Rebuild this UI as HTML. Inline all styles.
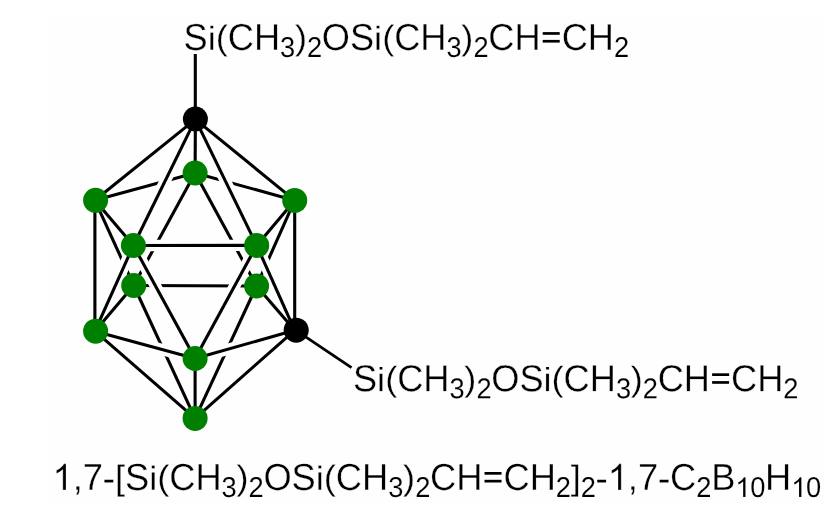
<!DOCTYPE html>
<html><head><meta charset="utf-8"><style>
html,body{margin:0;padding:0;background:#fff;}
svg{display:block;will-change:transform;}
text{font-family:"Liberation Sans",sans-serif;fill:#000;stroke:#fff;stroke-width:0.3px;}
text.s{stroke-width:0.1px;}
</style></head><body>
<svg width="834" height="516" viewBox="0 0 834 516">
<defs><mask id="m1" maskUnits="userSpaceOnUse" x="0" y="0" width="834" height="516"><rect width="834" height="516" fill="#fff"/><line x1="195.40" y1="119.40" x2="133.40" y2="245.50" stroke="#000" stroke-width="11.3"/></mask><mask id="m2" maskUnits="userSpaceOnUse" x="0" y="0" width="834" height="516"><rect width="834" height="516" fill="#fff"/><line x1="195.40" y1="119.40" x2="256.70" y2="245.40" stroke="#000" stroke-width="11.3"/></mask><mask id="m3" maskUnits="userSpaceOnUse" x="0" y="0" width="834" height="516"><rect width="834" height="516" fill="#fff"/><line x1="133.40" y1="245.50" x2="256.70" y2="245.40" stroke="#000" stroke-width="11.3"/><line x1="133.40" y1="245.50" x2="195.10" y2="358.50" stroke="#000" stroke-width="11.3"/></mask><mask id="m4" maskUnits="userSpaceOnUse" x="0" y="0" width="834" height="516"><rect width="834" height="516" fill="#fff"/><line x1="133.40" y1="245.50" x2="256.70" y2="245.40" stroke="#000" stroke-width="11.3"/><line x1="256.70" y1="245.40" x2="195.10" y2="358.50" stroke="#000" stroke-width="11.3"/></mask><mask id="m5" maskUnits="userSpaceOnUse" x="0" y="0" width="834" height="516"><rect width="834" height="516" fill="#fff"/><line x1="133.40" y1="245.50" x2="195.10" y2="358.50" stroke="#000" stroke-width="11.3"/><line x1="256.70" y1="245.40" x2="195.10" y2="358.50" stroke="#000" stroke-width="11.3"/></mask><mask id="m7" maskUnits="userSpaceOnUse" x="0" y="0" width="834" height="516"><rect width="834" height="516" fill="#fff"/><line x1="133.40" y1="245.50" x2="94.90" y2="331.20" stroke="#000" stroke-width="11.3"/></mask><mask id="m8" maskUnits="userSpaceOnUse" x="0" y="0" width="834" height="516"><rect width="834" height="516" fill="#fff"/><line x1="256.70" y1="245.40" x2="294.70" y2="330.30" stroke="#000" stroke-width="11.3"/></mask><mask id="m10" maskUnits="userSpaceOnUse" x="0" y="0" width="834" height="516"><rect width="834" height="516" fill="#fff"/><line x1="94.90" y1="331.20" x2="195.10" y2="358.50" stroke="#000" stroke-width="11.3"/></mask><mask id="m11" maskUnits="userSpaceOnUse" x="0" y="0" width="834" height="516"><rect width="834" height="516" fill="#fff"/><line x1="195.10" y1="358.50" x2="294.70" y2="330.30" stroke="#000" stroke-width="11.3"/></mask></defs>
<rect width="834" height="516" fill="#fff"/>
<rect x="48" y="15" width="778" height="488" fill="#fefefe"/>
<line x1="195.40" y1="119.40" x2="195.10" y2="173.00" stroke="#000" stroke-width="3.1"/>
<line x1="94.90" y1="200.30" x2="195.10" y2="173.00" stroke="#000" stroke-width="3.1" mask="url(#m1)"/>
<line x1="195.10" y1="173.00" x2="294.70" y2="200.40" stroke="#000" stroke-width="3.1" mask="url(#m2)"/>
<line x1="195.10" y1="173.00" x2="133.70" y2="285.50" stroke="#000" stroke-width="3.1" mask="url(#m3)"/>
<line x1="195.10" y1="173.00" x2="256.60" y2="286.00" stroke="#000" stroke-width="3.1" mask="url(#m4)"/>
<line x1="133.70" y1="285.50" x2="256.60" y2="286.00" stroke="#000" stroke-width="3.1" mask="url(#m5)"/>
<line x1="133.70" y1="285.50" x2="94.90" y2="331.20" stroke="#000" stroke-width="3.1"/>
<line x1="133.70" y1="285.50" x2="94.90" y2="200.30" stroke="#000" stroke-width="3.1" mask="url(#m7)"/>
<line x1="256.60" y1="286.00" x2="294.70" y2="200.40" stroke="#000" stroke-width="3.1" mask="url(#m8)"/>
<line x1="256.60" y1="286.00" x2="294.70" y2="330.30" stroke="#000" stroke-width="3.1"/>
<line x1="133.70" y1="285.50" x2="195.10" y2="418.40" stroke="#000" stroke-width="3.1" mask="url(#m10)"/>
<line x1="256.60" y1="286.00" x2="195.10" y2="418.40" stroke="#000" stroke-width="3.1" mask="url(#m11)"/>
<line x1="195.40" y1="119.40" x2="94.90" y2="200.30" stroke="#000" stroke-width="3.1"/>
<line x1="195.40" y1="119.40" x2="133.40" y2="245.50" stroke="#000" stroke-width="3.1"/>
<line x1="195.40" y1="119.40" x2="256.70" y2="245.40" stroke="#000" stroke-width="3.1"/>
<line x1="195.40" y1="119.40" x2="294.70" y2="200.40" stroke="#000" stroke-width="3.1"/>
<line x1="94.90" y1="200.30" x2="133.40" y2="245.50" stroke="#000" stroke-width="3.1"/>
<line x1="133.40" y1="245.50" x2="256.70" y2="245.40" stroke="#000" stroke-width="3.1"/>
<line x1="256.70" y1="245.40" x2="294.70" y2="200.40" stroke="#000" stroke-width="3.1"/>
<line x1="94.90" y1="200.30" x2="94.90" y2="331.20" stroke="#000" stroke-width="3.1"/>
<line x1="294.70" y1="200.40" x2="294.70" y2="330.30" stroke="#000" stroke-width="3.1"/>
<line x1="133.40" y1="245.50" x2="94.90" y2="331.20" stroke="#000" stroke-width="3.1"/>
<line x1="133.40" y1="245.50" x2="195.10" y2="358.50" stroke="#000" stroke-width="3.1"/>
<line x1="256.70" y1="245.40" x2="195.10" y2="358.50" stroke="#000" stroke-width="3.1"/>
<line x1="256.70" y1="245.40" x2="294.70" y2="330.30" stroke="#000" stroke-width="3.1"/>
<line x1="94.90" y1="331.20" x2="195.10" y2="358.50" stroke="#000" stroke-width="3.1"/>
<line x1="195.10" y1="358.50" x2="294.70" y2="330.30" stroke="#000" stroke-width="3.1"/>
<line x1="195.10" y1="358.50" x2="195.10" y2="418.40" stroke="#000" stroke-width="3.1"/>
<line x1="94.90" y1="331.20" x2="195.10" y2="418.40" stroke="#000" stroke-width="3.1"/>
<line x1="294.70" y1="330.30" x2="195.10" y2="418.40" stroke="#000" stroke-width="3.1"/>
<line x1="195.3" y1="54" x2="195.3" y2="119" stroke="#000" stroke-width="3.1"/>
<line x1="296" y1="330.3" x2="351.5" y2="367.7" stroke="#000" stroke-width="2.8"/>
<circle cx="195.4" cy="119.0" r="12.5" fill="#000"/>
<circle cx="195.1" cy="173.0" r="12.5" fill="#008000"/>
<circle cx="95.6" cy="200.3" r="12.5" fill="#008000"/>
<circle cx="294.7" cy="200.4" r="12.5" fill="#008000"/>
<circle cx="133.4" cy="245.5" r="12.5" fill="#008000"/>
<circle cx="256.7" cy="245.4" r="12.5" fill="#008000"/>
<circle cx="133.7" cy="285.5" r="12.5" fill="#008000"/>
<circle cx="256.6" cy="286.0" r="12.5" fill="#008000"/>
<circle cx="95.6" cy="331.2" r="12.5" fill="#008000"/>
<circle cx="296.2" cy="330.2" r="12.5" fill="#000"/>
<circle cx="195.1" cy="358.5" r="12.5" fill="#008000"/>
<circle cx="195.1" cy="418.4" r="12.5" fill="#008000"/>
<text x="183.600" y="50.000" font-size="36.200" transform="matrix(1 0 0 1.04 0 -2.000) rotate(0.04 183.600 50.000)">S</text>
<text x="207.725" y="50.000" font-size="36.200" transform="matrix(1 0 0 0.93 0 3.500) rotate(0.04 207.725 50.000)">i</text>
<text x="215.772" y="50.000" font-size="36.200" transform="matrix(1 0 0 0.95 0 2.029) rotate(0.04 215.772 50.000)">(</text>
<text x="227.819" y="50.000" font-size="36.200" transform="matrix(1 0 0 1.04 0 -2.000) rotate(0.04 227.819 50.000)">C</text>
<text x="253.959" y="50.000" font-size="36.200" transform="matrix(1 0 0 1.04 0 -2.000) rotate(0.04 253.959 50.000)">H</text>
<text class="s" x="280.100" y="57.000" font-size="27.234" transform="matrix(1 0 0 1.055 0 -3.135) rotate(0.04 280.100 57.000)">3</text>
<text x="294.944" y="50.000" font-size="36.200" transform="matrix(1 0 0 0.95 0 2.029) rotate(0.04 294.944 50.000)">)</text>
<text class="s" x="307.006" y="57.000" font-size="27.234" transform="matrix(1 0 0 1.055 0 -3.135) rotate(0.04 307.006 57.000)">2</text>
<text x="321.850" y="50.000" font-size="36.200" transform="matrix(1 0 0 1.04 0 -2.000) rotate(0.04 321.850 50.000)">O</text>
<text x="349.991" y="50.000" font-size="36.200" transform="matrix(1 0 0 1.04 0 -2.000) rotate(0.04 349.991 50.000)">S</text>
<text x="374.131" y="50.000" font-size="36.200" transform="matrix(1 0 0 0.93 0 3.500) rotate(0.04 374.131 50.000)">i</text>
<text x="382.163" y="50.000" font-size="36.200" transform="matrix(1 0 0 0.95 0 2.029) rotate(0.04 382.163 50.000)">(</text>
<text x="394.225" y="50.000" font-size="36.200" transform="matrix(1 0 0 1.04 0 -2.000) rotate(0.04 394.225 50.000)">C</text>
<text x="420.350" y="50.000" font-size="36.200" transform="matrix(1 0 0 1.04 0 -2.000) rotate(0.04 420.350 50.000)">H</text>
<text class="s" x="446.506" y="57.000" font-size="27.234" transform="matrix(1 0 0 1.055 0 -3.135) rotate(0.04 446.506 57.000)">3</text>
<text x="461.350" y="50.000" font-size="36.200" transform="matrix(1 0 0 0.95 0 2.029) rotate(0.04 461.350 50.000)">)</text>
<text class="s" x="473.413" y="57.000" font-size="27.234" transform="matrix(1 0 0 1.055 0 -3.135) rotate(0.04 473.413 57.000)">2</text>
<text x="488.256" y="50.000" font-size="36.200" transform="matrix(1 0 0 1.04 0 -2.000) rotate(0.04 488.256 50.000)">C</text>
<text x="514.381" y="50.000" font-size="36.200" transform="matrix(1 0 0 1.04 0 -2.000) rotate(0.04 514.381 50.000)">H</text>
<rect x="542.72" y="32.10" width="17.0" height="2.7"/>
<rect x="542.72" y="39.90" width="17.0" height="2.7"/>
<text x="561.647" y="50.000" font-size="36.200" transform="matrix(1 0 0 1.04 0 -2.000) rotate(0.04 561.647 50.000)">C</text>
<text x="587.787" y="50.000" font-size="36.200" transform="matrix(1 0 0 1.04 0 -2.000) rotate(0.04 587.787 50.000)">H</text>
<text class="s" x="613.928" y="57.000" font-size="27.234" transform="matrix(1 0 0 1.055 0 -3.135) rotate(0.04 613.928 57.000)">2</text>
<text x="353.000" y="391.200" font-size="36.200" transform="matrix(1 0 0 1.04 0 -15.648) rotate(0.04 353.000 391.200)">S</text>
<text x="377.125" y="391.200" font-size="36.200" transform="matrix(1 0 0 0.93 0 27.384) rotate(0.04 377.125 391.200)">i</text>
<text x="385.172" y="391.200" font-size="36.200" transform="matrix(1 0 0 0.95 0 19.089) rotate(0.04 385.172 391.200)">(</text>
<text x="397.219" y="391.200" font-size="36.200" transform="matrix(1 0 0 1.04 0 -15.648) rotate(0.04 397.219 391.200)">C</text>
<text x="423.359" y="391.200" font-size="36.200" transform="matrix(1 0 0 1.04 0 -15.648) rotate(0.04 423.359 391.200)">H</text>
<text class="s" x="449.500" y="398.200" font-size="27.234" transform="matrix(1 0 0 1.055 0 -21.901) rotate(0.04 449.500 398.200)">3</text>
<text x="464.344" y="391.200" font-size="36.200" transform="matrix(1 0 0 0.95 0 19.089) rotate(0.04 464.344 391.200)">)</text>
<text class="s" x="476.406" y="398.200" font-size="27.234" transform="matrix(1 0 0 1.055 0 -21.901) rotate(0.04 476.406 398.200)">2</text>
<text x="491.250" y="391.200" font-size="36.200" transform="matrix(1 0 0 1.04 0 -15.648) rotate(0.04 491.250 391.200)">O</text>
<text x="519.391" y="391.200" font-size="36.200" transform="matrix(1 0 0 1.04 0 -15.648) rotate(0.04 519.391 391.200)">S</text>
<text x="543.531" y="391.200" font-size="36.200" transform="matrix(1 0 0 0.93 0 27.384) rotate(0.04 543.531 391.200)">i</text>
<text x="551.562" y="391.200" font-size="36.200" transform="matrix(1 0 0 0.95 0 19.089) rotate(0.04 551.562 391.200)">(</text>
<text x="563.625" y="391.200" font-size="36.200" transform="matrix(1 0 0 1.04 0 -15.648) rotate(0.04 563.625 391.200)">C</text>
<text x="589.750" y="391.200" font-size="36.200" transform="matrix(1 0 0 1.04 0 -15.648) rotate(0.04 589.750 391.200)">H</text>
<text class="s" x="615.906" y="398.200" font-size="27.234" transform="matrix(1 0 0 1.055 0 -21.901) rotate(0.04 615.906 398.200)">3</text>
<text x="630.750" y="391.200" font-size="36.200" transform="matrix(1 0 0 0.95 0 19.089) rotate(0.04 630.750 391.200)">)</text>
<text class="s" x="642.812" y="398.200" font-size="27.234" transform="matrix(1 0 0 1.055 0 -21.901) rotate(0.04 642.812 398.200)">2</text>
<text x="657.656" y="391.200" font-size="36.200" transform="matrix(1 0 0 1.04 0 -15.648) rotate(0.04 657.656 391.200)">C</text>
<text x="683.781" y="391.200" font-size="36.200" transform="matrix(1 0 0 1.04 0 -15.648) rotate(0.04 683.781 391.200)">H</text>
<rect x="712.12" y="373.30" width="17.0" height="2.7"/>
<rect x="712.12" y="381.10" width="17.0" height="2.7"/>
<text x="731.047" y="391.200" font-size="36.200" transform="matrix(1 0 0 1.04 0 -15.648) rotate(0.04 731.047 391.200)">C</text>
<text x="757.188" y="391.200" font-size="36.200" transform="matrix(1 0 0 1.04 0 -15.648) rotate(0.04 757.188 391.200)">H</text>
<text class="s" x="783.328" y="398.200" font-size="27.234" transform="matrix(1 0 0 1.055 0 -21.901) rotate(0.04 783.328 398.200)">2</text>
<path d="M763 0H583V1147Q518 1085 413 1023Q308 961 223 930V1104Q374 1175 487 1276Q600 1377 647 1472H763Z" transform="matrix(0.017710 0 0 -0.017710 52.503 489.900)" stroke="#fff" stroke-width="16.94"/>
<text x="72.637" y="489.900" font-size="36.270" transform="rotate(0.04 72.637 489.900)">,</text>
<text x="82.704" y="489.900" font-size="36.270" transform="matrix(1 0 0 1.04 0 -19.596) rotate(0.04 82.704 489.900)">7</text>
<rect x="104.45" y="479.75" width="8.85" height="2.7"/>
<text x="114.918" y="489.900" font-size="36.270" transform="matrix(1 0 0 0.95 0 24.023) rotate(0.04 114.918 489.900)">[</text>
<text x="125.001" y="489.900" font-size="36.270" transform="matrix(1 0 0 1.04 0 -19.596) rotate(0.04 125.001 489.900)">S</text>
<text x="149.162" y="489.900" font-size="36.270" transform="matrix(1 0 0 0.93 0 34.293) rotate(0.04 149.162 489.900)">i</text>
<text x="157.200" y="489.900" font-size="36.270" transform="matrix(1 0 0 0.95 0 24.023) rotate(0.04 157.200 489.900)">(</text>
<text x="169.265" y="489.900" font-size="36.270" transform="matrix(1 0 0 1.04 0 -19.596) rotate(0.04 169.265 489.900)">C</text>
<text x="195.423" y="489.900" font-size="36.270" transform="matrix(1 0 0 1.04 0 -19.596) rotate(0.04 195.423 489.900)">H</text>
<text class="s" x="221.598" y="496.900" font-size="27.285" transform="matrix(1 0 0 1.055 0 -27.329) rotate(0.04 221.598 496.900)">3</text>
<text x="236.472" y="489.900" font-size="36.270" transform="matrix(1 0 0 0.95 0 24.023) rotate(0.04 236.472 489.900)">)</text>
<text class="s" x="248.537" y="496.900" font-size="27.285" transform="matrix(1 0 0 1.055 0 -27.329) rotate(0.04 248.537 496.900)">2</text>
<text x="263.411" y="489.900" font-size="36.270" transform="matrix(1 0 0 1.04 0 -19.596) rotate(0.04 263.411 489.900)">O</text>
<text x="291.583" y="489.900" font-size="36.270" transform="matrix(1 0 0 1.04 0 -19.596) rotate(0.04 291.583 489.900)">S</text>
<text x="315.744" y="489.900" font-size="36.270" transform="matrix(1 0 0 0.93 0 34.293) rotate(0.04 315.744 489.900)">i</text>
<text x="323.798" y="489.900" font-size="36.270" transform="matrix(1 0 0 0.95 0 24.023) rotate(0.04 323.798 489.900)">(</text>
<text x="335.863" y="489.900" font-size="36.270" transform="matrix(1 0 0 1.04 0 -19.596) rotate(0.04 335.863 489.900)">C</text>
<text x="362.021" y="489.900" font-size="36.270" transform="matrix(1 0 0 1.04 0 -19.596) rotate(0.04 362.021 489.900)">H</text>
<text class="s" x="388.196" y="496.900" font-size="27.285" transform="matrix(1 0 0 1.055 0 -27.329) rotate(0.04 388.196 496.900)">3</text>
<text x="403.070" y="489.900" font-size="36.270" transform="matrix(1 0 0 0.95 0 24.023) rotate(0.04 403.070 489.900)">)</text>
<text class="s" x="415.135" y="496.900" font-size="27.285" transform="matrix(1 0 0 1.055 0 -27.329) rotate(0.04 415.135 496.900)">2</text>
<text x="430.009" y="489.900" font-size="36.270" transform="matrix(1 0 0 1.04 0 -19.596) rotate(0.04 430.009 489.900)">C</text>
<text x="456.168" y="489.900" font-size="36.270" transform="matrix(1 0 0 1.04 0 -19.596) rotate(0.04 456.168 489.900)">H</text>
<rect x="484.53" y="472.00" width="17.0" height="2.7"/>
<rect x="484.53" y="479.80" width="17.0" height="2.7"/>
<text x="503.475" y="489.900" font-size="36.270" transform="matrix(1 0 0 1.04 0 -19.596) rotate(0.04 503.475 489.900)">C</text>
<text x="529.634" y="489.900" font-size="36.270" transform="matrix(1 0 0 1.04 0 -19.596) rotate(0.04 529.634 489.900)">H</text>
<text class="s" x="555.823" y="496.900" font-size="27.285" transform="matrix(1 0 0 1.055 0 -27.329) rotate(0.04 555.823 496.900)">2</text>
<text x="570.698" y="489.900" font-size="36.270" transform="matrix(1 0 0 0.95 0 24.023) rotate(0.04 570.698 489.900)">]</text>
<text class="s" x="580.765" y="496.900" font-size="27.285" transform="matrix(1 0 0 1.055 0 -27.329) rotate(0.04 580.765 496.900)">2</text>
<rect x="597.24" y="479.75" width="8.85" height="2.7"/>
<path d="M763 0H583V1147Q518 1085 413 1023Q308 961 223 930V1104Q374 1175 487 1276Q600 1377 647 1472H763Z" transform="matrix(0.017710 0 0 -0.017710 607.688 489.900)" stroke="#fff" stroke-width="16.94"/>
<text x="627.838" y="489.900" font-size="36.270" transform="rotate(0.04 627.838 489.900)">,</text>
<text x="637.905" y="489.900" font-size="36.270" transform="matrix(1 0 0 1.04 0 -19.596) rotate(0.04 637.905 489.900)">7</text>
<rect x="659.65" y="479.75" width="8.85" height="2.7"/>
<text x="670.119" y="489.900" font-size="36.270" transform="matrix(1 0 0 1.04 0 -19.596) rotate(0.04 670.119 489.900)">C</text>
<text class="s" x="696.294" y="496.900" font-size="27.285" transform="matrix(1 0 0 1.055 0 -27.329) rotate(0.04 696.294 496.900)">2</text>
<text x="711.168" y="489.900" font-size="36.270" transform="matrix(1 0 0 1.04 0 -19.596) rotate(0.04 711.168 489.900)">B</text>
<path d="M763 0H583V1147Q518 1085 413 1023Q308 961 223 930V1104Q374 1175 487 1276Q600 1377 647 1472H763Z" transform="matrix(0.013323 0 0 -0.013323 735.345 496.900)" stroke="#fff" stroke-width="7.51"/>
<text class="s" x="750.203" y="496.900" font-size="27.285" transform="matrix(1 0 0 1.055 0 -27.329) rotate(0.04 750.203 496.900)">0</text>
<text x="765.077" y="489.900" font-size="36.270" transform="matrix(1 0 0 1.04 0 -19.596) rotate(0.04 765.077 489.900)">H</text>
<path d="M763 0H583V1147Q518 1085 413 1023Q308 961 223 930V1104Q374 1175 487 1276Q600 1377 647 1472H763Z" transform="matrix(0.013323 0 0 -0.013323 791.252 496.900)" stroke="#fff" stroke-width="7.51"/>
<text class="s" x="806.110" y="496.900" font-size="27.285" transform="matrix(1 0 0 1.055 0 -27.329) rotate(0.04 806.110 496.900)">0</text>
</svg></body></html>
